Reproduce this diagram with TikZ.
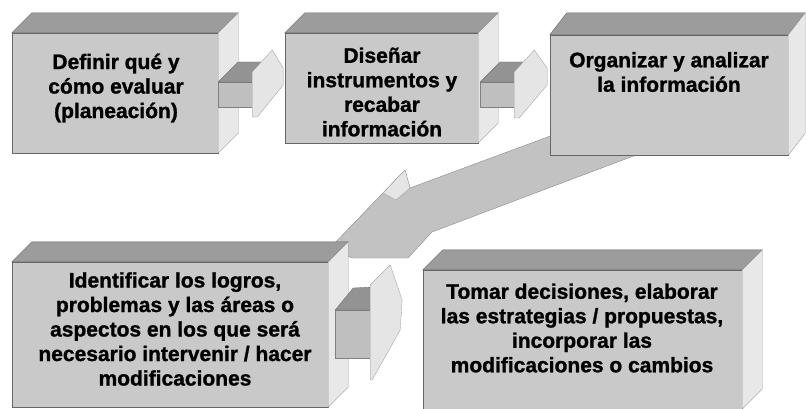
\documentclass[tikz,border=0pt]{standalone}
\usepackage{fontspec}
\newfontfamily\boxfont[BoldFeatures={FakeBold=1.2}]{Liberation Sans}
\usetikzlibrary{calc}

\begin{document}
\begin{tikzpicture}[x=1pt,y=-1pt,
    front/.style={fill=gray!42, draw=black!60, line width=0.4pt, inner sep=0pt},
    topface/.style={fill=gray!78, draw=black!60, line width=0.4pt},
    sideface/.style={fill=gray!18, draw=black!40, line width=0.4pt},
    boxtext/.style={font=\boxfont\bfseries\fontsize{21}{24.5}\selectfont, align=center},
    bigarrow/.style={fill=gray!48, draw=black!45, line width=0.4pt},
    shaft/.style={fill=gray!50, draw=black!50, line width=0.3pt},
    shafttop/.style={fill=gray!85, draw=black!60, line width=0.3pt},
    head/.style={fill=gray!20, draw=black!40, line width=0.3pt}]
    \useasboundingbox (0,0) rectangle (806,409);

    % big arrow, behind the boxes
    \draw[bigarrow] (650,99)--(410,188)--(405,170)--(330,248)--(352,258)--(408,258)--(432,232)--(660,146)--cycle;
    \draw[head] (383,193)--(405,170)--(410,188)--(396,200)--cycle;

    % boxes (front faces)
    \node[front, minimum width=206, minimum height=120] (b1) at (115,93) {};
    \node[front, minimum width=193, minimum height=110] (b2) at (381.5,88) {};
    \node[front, minimum width=238, minimum height=120] (b3) at (669,95) {};
    \node[front, minimum width=316, minimum height=145] (b4) at (170,334.5) {};
    \node[front, minimum width=319, minimum height=139] (b5) at (582.5,339.5) {};

    % top and side faces
    \foreach \b/\dx/\dy in {b1/20/-20, b2/20/-20, b3/17/-22, b4/20/-20, b5/20/-20}{
        \draw[topface] (\b.north west)--++(\dx,\dy)--($(\b.north east)+(\dx,\dy)$)--(\b.north east)--cycle;
        \draw[sideface] (\b.north east)--++(\dx,\dy)--($(\b.south east)+(\dx,\dy)$)--(\b.south east)--cycle;
    }

    % texts
    \node[boxtext] (t1) at (116,88) {Definir qué y\\cómo evaluar\\(planeación)};
    \node[boxtext] (t2) at (382,92) {Diseñar\\instrumentos y\\recabar\\información};
    \node[boxtext] (t3) at (669,72) {Organizar y analizar\\la información};
    \node[boxtext] (t4) at (175,329) {Identificar los logros,\\problemas y las áreas o\\aspectos en los que será\\necesario intervenir / hacer\\modificaciones};
    \node[boxtext] (t5) at (582,328) {Tomar decisiones, elaborar\\las estrategias / propuestas,\\incorporar las\\modificaciones o cambios};

    % small arrows
    \begin{scope}[shift={(b1.east)}]
        \draw[shaft] (0,-11) rectangle (35,14);
        \draw[shafttop] (0,-11)--(20,-31)--(44,-31)--(35,-11)--cycle;
        \draw[head] (34,-21)--(54,-43)--(65,-25)--(65,-8)--(39,24)--(34,24)--cycle;
    \end{scope}
    \begin{scope}[shift={($(b2.east)+(2,5)$)}]
        \draw[shaft] (0,-11) rectangle (35,14);
        \draw[shafttop] (0,-11)--(20,-31)--(44,-31)--(35,-11)--cycle;
        \draw[head] (34,-21)--(54,-43)--(67,-25)--(67,-8)--(39,25)--(34,25)--cycle;
    \end{scope}
    \begin{scope}[shift={(b4.east)}]
        \draw[shaft] (7,-24.5) rectangle (42,23.5);
        \draw[shafttop] (7,-24.5)--(25,-46.5)--(45,-47.5)--(42,-24.5)--cycle;
        \draw[head] (42,-49.5)--(62,-69.5)--(74,-34.5)--(72,-4.5)--(44,45.5)--(42,45.5)--cycle;
    \end{scope}
\end{tikzpicture}
\end{document}
